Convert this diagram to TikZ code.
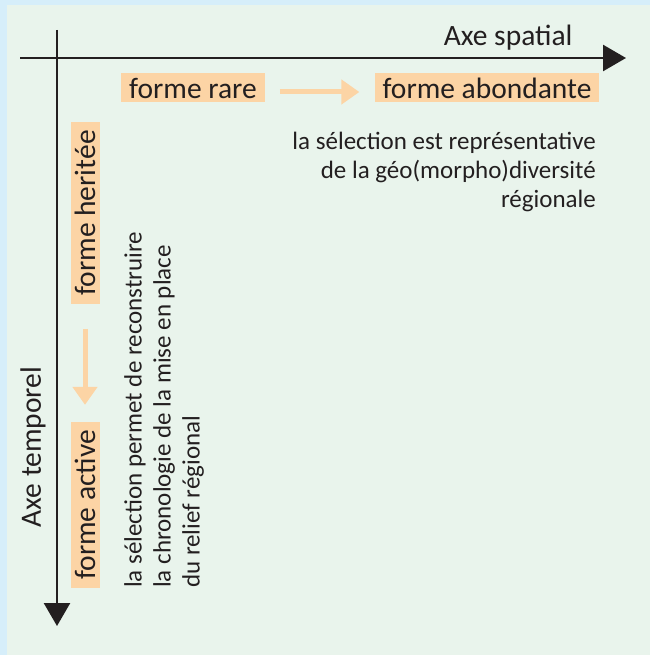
\documentclass[tikz,border=0pt]{standalone}
\usepackage{fontspec}
\setmainfont{Carlito}
\usepackage{xcolor}
\usetikzlibrary{arrows.meta,positioning}
\definecolor{ssblue}{HTML}{D6EEFA}
\definecolor{ssgreen}{HTML}{E9F4EC}
\definecolor{ssorange}{HTML}{FCD4A5}
\definecolor{ssink}{HTML}{231F20}
\newcommand{\bigfont}{\fontsize{29.5}{34}\selectfont}
\newcommand{\notefont}{\fontsize{25}{29}\selectfont}

\begin{document}
\begin{tikzpicture}[
  x=1pt,y=-1pt,
  every node/.style={text=ssink},
  formbox/.style={fill=ssorange,inner xsep=8pt,inner ysep=0pt,minimum height=29pt,font=\bigfont},
  note/.style={inner sep=0pt,font=\notefont},
  axis/.style={-{Triangle[length=23pt,width=26pt]},line width=2.6pt,color=ssink},
  flow/.style={-{Triangle[length=18pt,width=24pt]},line width=5pt,color=ssorange}
]
\fill[ssblue] (0,0) rectangle (650,655);
\fill[ssgreen] (7,5) rectangle (650,655);
\useasboundingbox (0,0) rectangle (650,655);
\coordinate (hstart) at (20,58);
\coordinate (hend) at (626,58);
\coordinate (vstart) at (57,30);
\coordinate (vend) at (57,626);
\draw[axis] (hstart) -- (hend);
\draw[axis] (vstart) -- (vend);
\node[anchor=base east,font=\bigfont] (spatial) at (576,46) {Axe spatial};
\node[font=\bigfont,rotate=90] (temporel) at (33,447) {Axe temporel};
\node[formbox] (rare) at (193,88) {forme rare};
\node[formbox] (abond) at (487,88) {forme abondante};
\draw[flow,shorten <=15pt,shorten >=15pt] ([yshift=-4pt]rare.east) -- ([yshift=-4pt]abond.west);
\node[formbox,rotate=90] (herit) at (85,213) {forme heritée};
\node[formbox,rotate=90] (active) at (85,505) {forme active};
\draw[flow,shorten <=25pt,shorten >=17pt] (herit) -- (active);
\node[note,align=right,anchor=north east] (spatialnote) at (596,132) {la sélection est représentative\\de la géo(morpho)diversité\\régionale};
\node[note,align=left,rotate=90,anchor=north west] (tempnote) at (124,588) {la sélection permet de reconstruire\\la chronologie de la mise en place\\du relief régional};
\end{tikzpicture}
\end{document}
